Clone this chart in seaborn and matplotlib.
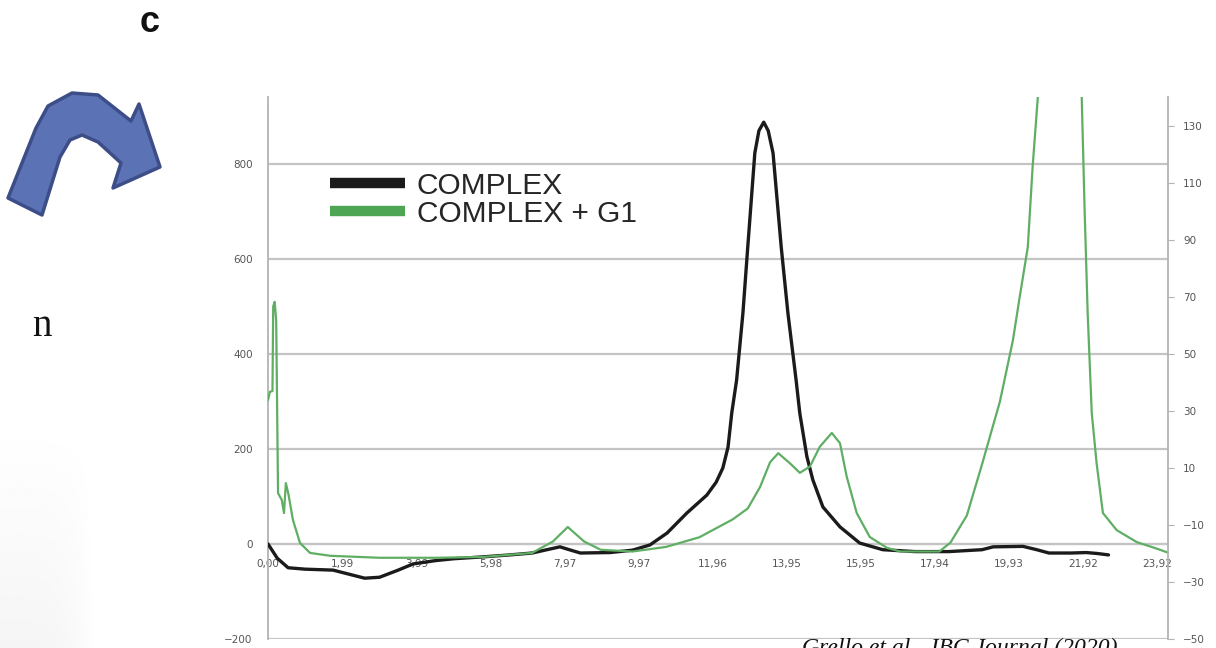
import matplotlib
matplotlib.use("Agg")
import numpy as np
import matplotlib.pyplot as plt
import seaborn as sns
from matplotlib.path import Path
from matplotlib.patches import PathPatch
from matplotlib.lines import Line2D

# ---------------- data ----------------
series_names = ["COMPLEX", "COMPLEX + G1"]

# COMPLEX (left axis)
time_complex = [0.00, 0.25, 0.54, 1.00, 1.75, 2.20, 2.60, 3.00, 3.50, 3.90, 4.50, 5.00,
                5.80, 6.50, 7.10, 7.50, 7.85, 8.10, 8.40, 9.20, 9.80, 10.27, 10.73, 11.26,
                11.80, 12.05, 12.23, 12.37, 12.47, 12.60, 12.77, 12.90, 13.09, 13.20, 13.33,
                13.45, 13.58, 13.80, 13.98, 14.20, 14.30, 14.49, 14.65, 14.92, 15.38, 15.91,
                16.53, 17.40, 18.30, 19.20, 19.50, 20.30, 20.67, 21.00, 21.60, 22.00, 22.30, 22.60]
signal_complex = [0, -30, -50, -53, -55, -64, -72, -70, -55, -42, -35, -31,
                  -27, -23, -19, -12, -6, -12, -19, -18, -13, -2, 23, 65,
                  103, 130, 160, 204, 276, 345, 486, 625, 823, 870, 888,
                  870, 823, 625, 486, 345, 275, 184, 135, 78, 36, 2,
                  -12, -16, -16, -12, -6, -5, -12, -19, -19, -18, -20, -23]

# COMPLEX + G1 (right axis)
time_g1 = [0.00, 0.05, 0.12, 0.14, 0.18, 0.22, 0.27, 0.37, 0.43, 0.48, 0.55, 0.67,
           0.86, 1.13, 1.67, 3.00, 4.50, 5.80, 7.10, 7.66, 8.06, 8.50, 8.95, 9.80,
           10.70, 11.60, 12.50, 12.90, 13.23, 13.50, 13.72, 14.03, 14.30, 14.57, 14.84,
           15.16, 15.38, 15.56, 15.83, 16.18, 16.64, 17.00, 18.05, 18.35, 18.79, 19.20,
           19.68, 20.03, 20.20, 20.43, 20.56, 20.70, 20.95, 21.30, 21.65, 21.88, 21.96,
           22.04, 22.15, 22.28, 22.45, 22.82, 23.36, 23.90, 24.20]
signal_g1 = [33.8, 36.7, 37.0, 66.7, 68.3, 61.7, 1.2, -1.2, -5.8, 4.7, 0.8, -8.2,
             -16.3, -19.8, -20.8, -21.5, -21.5, -21.2, -19.8, -15.8, -10.7, -15.8, -18.7, -19.3,
             -17.7, -14.3, -8.0, -4.2, 3.3, 12.0, 15.2, 11.7, 8.3, 10.5, 17.5,
             22.3, 18.7, 7.0, -5.8, -14.2, -18.0, -19.3, -19.3, -16.2, -6.7, 11.3,
             33.3, 54.8, 69.0, 87.5, 115.7, 140.2, 185.0, 210.0, 190.0, 140.2, 99.5,
             64.3, 29.3, 11.7, -5.8, -11.8, -16.0, -18.3, -19.7]

x_ticks = [0.00, 1.99, 3.99, 5.98, 7.97, 9.97, 11.96, 13.95, 15.95, 17.94, 19.93, 21.92, 23.92]
x_tick_labels = ["0,00", "1,99", "3,99", "5,98", "7,97", "9,97", "11,96", "13,95",
                 "15,95", "17,94", "19,93", "21,92", "23,92"]
left_ticks = [-200, 0, 200, 400, 600, 800]
right_ticks = [-50, -30, -10, 10, 30, 50, 70, 90, 110, 130]

# ---------------- style ----------------
sns.set_theme(style="white")
plt.rcParams["font.family"] = ["DejaVu Sans"]

W, H = 1216, 648
fig = plt.figure(figsize=(W / 100, H / 100), dpi=100)
fig.patch.set_facecolor("white")

# faint slide shading bottom-left
bg = fig.add_axes([0, 0, 95 / W, 230 / H])
gy = np.linspace(0, 1, 100)[:, None]
gx = np.linspace(0, 1, 60)[None, :]
shade = 1 - 0.04 * gy * (1 - gx ** 4)
bg.imshow(shade, cmap="gray", vmin=0, vmax=1, aspect="auto", origin="upper",
          extent=[0, 1, 0, 1])
bg.set_axis_off()

ax = fig.add_axes([268 / W, 1 - 639 / H, 900 / W, (639 - 97) / H])
ax2 = ax.twinx()

black = "#1b1b1b"
green = "#5fae64"
grid_c = "#c4c4c4"
spine_c = "#b3b3b3"
tick_c = "#555555"

sns.lineplot(x=time_complex, y=signal_complex, ax=ax, color=black, lw=2.4,
             estimator=None, sort=False, zorder=3)
sns.lineplot(x=time_g1, y=signal_g1, ax=ax2, color=green, lw=1.6,
             estimator=None, sort=False)

ax.set_xlim(0, 24.2)
ax.set_ylim(-200, 941)
ax2.set_ylim(-50, (941 + 200) / 6 - 50)

ax.set_xticks(x_ticks, x_tick_labels)
ax.set_yticks(left_ticks)
ax2.set_yticks(right_ticks)

ax.yaxis.grid(True, color=grid_c, lw=1.6)
ax.xaxis.grid(False)
ax.set_axisbelow(True)

ax.spines["bottom"].set_position(("data", 0))
ax.spines["bottom"].set_color(grid_c)
ax.spines["bottom"].set_linewidth(1.6)
ax.spines["top"].set_visible(False)
ax.spines["right"].set_visible(False)
ax.spines["left"].set_color(spine_c)
ax.spines["left"].set_linewidth(1.3)

for s in ["top", "left", "bottom"]:
    ax2.spines[s].set_visible(False)
ax2.spines["right"].set_color(spine_c)
ax2.spines["right"].set_linewidth(1.3)

ax.tick_params(axis="x", length=0, pad=11, labelsize=7.5, labelcolor=tick_c)
ax.tick_params(axis="y", length=0, pad=11, labelsize=7.5, labelcolor=tick_c)
ax2.tick_params(axis="y", length=4, width=0.8, color=spine_c, direction="out",
                pad=7, labelsize=7.5, labelcolor=tick_c, right=True)
ax.set_xlabel("")
ax.set_ylabel("")
ax2.set_ylabel("")

handles = [Line2D([], [], color=black, lw=7.5, solid_capstyle="butt"),
           Line2D([], [], color="#4ea655", lw=7.5, solid_capstyle="butt")]
ax2.legend(handles, series_names, loc="upper left", bbox_to_anchor=(0.069, 0.862),
           frameon=False, handlelength=2.5, handletextpad=0.4, labelspacing=0.0,
           borderpad=0, borderaxespad=0,
           prop={"family": "Liberation Sans", "size": 21.5})

# ---------------- slide decorations ----------------
fig.text(150 / W, 1 - 22 / H, "c", fontsize=26, fontweight="bold",
         family="Liberation Sans", ha="center", va="center", color="#111111")

fig.text(52 / W, 1 - 327 / H, "n", fontsize=28, family="Liberation Serif",
         ha="right", va="center", color="#111111")

fig.text(802 / W, 1 - 638 / H, "Grello et al., JBC Journal (2020)", fontsize=17,
         family="Liberation Serif", style="italic", ha="left", va="top", color="#111111")

# curved block arrow (decoration)
pts = [(8, 198), (36, 128), (48, 106), (72, 93), (98, 95), (131, 121), (139, 104),
       (160, 167), (113, 188), (121, 163), (98, 142), (82, 135), (70, 140), (60, 157),
       (42, 215), (8, 198)]
verts = [(x / W, 1 - y / H) for x, y in pts]
codes = [Path.MOVETO] + [Path.LINETO] * (len(verts) - 2) + [Path.CLOSEPOLY]
arrow = PathPatch(Path(verts, codes), facecolor="#5b72b5", edgecolor="#3d4d88",
                  lw=2.5, transform=fig.transFigure, joinstyle="round")
fig.add_artist(arrow)

fig.savefig("out.png", dpi=100)
